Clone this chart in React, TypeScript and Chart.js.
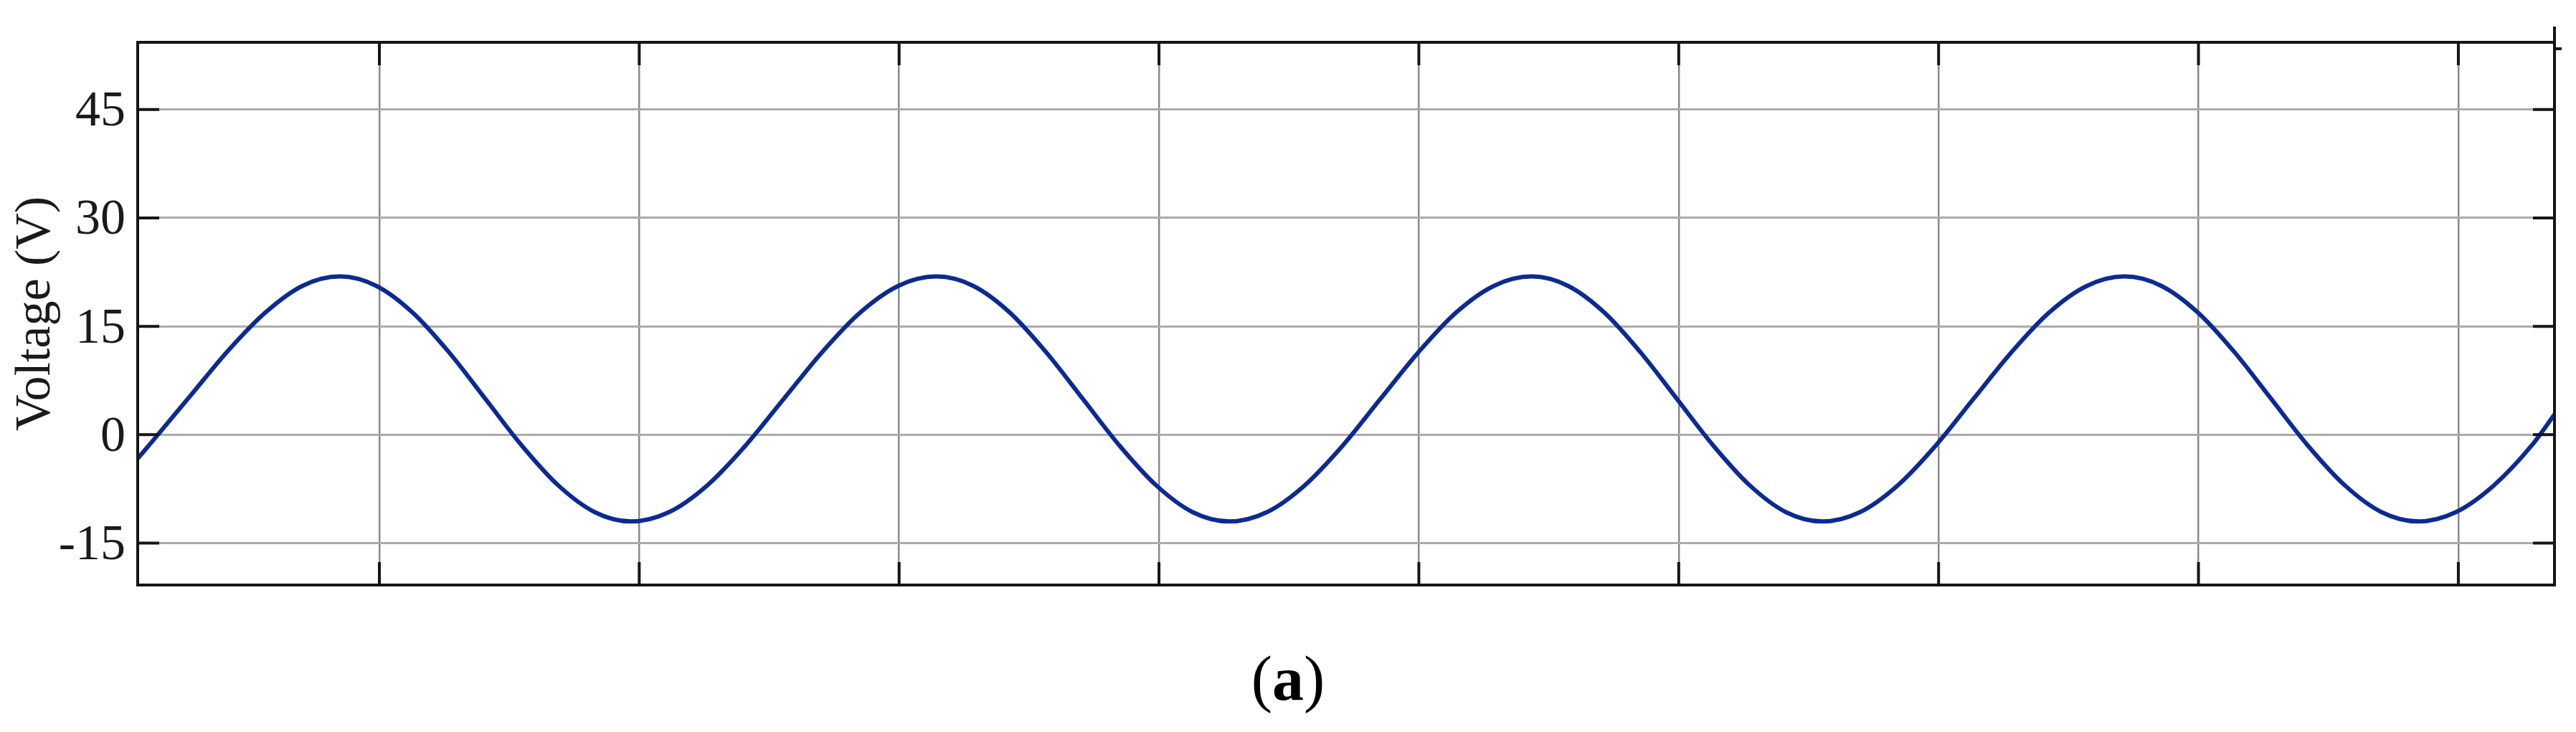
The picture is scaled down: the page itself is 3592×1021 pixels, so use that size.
import React, { useEffect, useRef } from 'react';
import { Chart, registerables } from 'chart.js';

Chart.register(...registerables);

// Time axis (grid units; one vertical grid division = 1 unit)
const timeUnits = [
  0.07, 0.129, 0.273, 0.417, 0.561, 0.704, 0.848,
  0.988, 1.128, 1.268, 1.408, 1.548, 1.688, 1.828, 1.968,
  2.115, 2.262, 2.409, 2.556, 2.703, 2.85, 2.997, 3.144,
  3.285, 3.426, 3.566, 3.707, 3.848, 3.989, 4.129, 4.27,
  4.416, 4.561, 4.707, 4.852, 4.998, 5.143, 5.289, 5.434,
  5.574, 5.714, 5.853, 5.993, 6.133, 6.273, 6.412, 6.552,
  6.698, 6.843, 6.989, 7.134, 7.28, 7.425, 7.571, 7.716,
  7.857, 7.998, 8.139, 8.28, 8.421, 8.563, 8.704, 8.845,
  8.991, 9.137, 9.282, 9.37,
];
// Voltage (V)
const voltage = [
  -3.3, -0.8, 5.4, 11.6, 16.9, 20.6, 21.9,
  20.6, 16.9, 11.4, 4.95, -1.5, -7.0, -10.7, -12.0,
  -10.7, -7.0, -1.5, 4.95, 11.4, 16.9, 20.6, 21.9,
  20.6, 16.9, 11.4, 4.95, -1.5, -7.0, -10.7, -12.0,
  -10.7, -7.0, -1.5, 4.95, 11.4, 16.9, 20.6, 21.9,
  20.6, 16.9, 11.4, 4.95, -1.5, -7.0, -10.7, -12.0,
  -10.7, -7.0, -1.5, 4.95, 11.4, 16.9, 20.6, 21.9,
  20.6, 16.9, 11.4, 4.95, -1.5, -7.0, -10.7, -12.0,
  -10.7, -7.0, -1.5, 2.8,
];
const yTicks = [-15, 0, 15, 30, 45];
const xTicks = [1, 2, 3, 4, 5, 6, 7, 8, 9];
const yLabel = 'Voltage (V)';
const caption = 'a';

const X_MIN = 0.07;
const X_MAX = 9.37;
const Y_MIN = -20.8;
const Y_MAX = 54.3;

const W = 3592;
const H = 1021;

const SERIF = '"Liberation Serif", "Times New Roman", serif';

const framePlugin = {
  id: 'frame',
  afterDatasetsDraw(chart: any) {
    const { ctx, chartArea, scales } = chart;
    const { left, right, top, bottom } = chartArea;
    const x = scales.x;
    const y = scales.y;
    ctx.save();
    ctx.strokeStyle = '#151515';
    ctx.lineWidth = 4;
    ctx.lineCap = 'butt';
    ctx.beginPath();
    yTicks.forEach((v) => {
      const py = y.getPixelForValue(v);
      ctx.moveTo(left, py);
      ctx.lineTo(left + 30, py);
      ctx.moveTo(right, py);
      ctx.lineTo(right - 30, py);
    });
    xTicks.forEach((v) => {
      const px = x.getPixelForValue(v);
      ctx.moveTo(px, top);
      ctx.lineTo(px, top + 32);
      ctx.moveTo(px, bottom);
      ctx.lineTo(px, bottom - 32);
    });
    ctx.stroke();
    ctx.strokeRect(left, top, right - left, bottom - top);
    // small "L" mark at the top-right corner
    ctx.beginPath();
    ctx.moveTo(right, top);
    ctx.lineTo(right, top - 22);
    ctx.moveTo(right, top + 9);
    ctx.lineTo(right + 10, top + 9);
    ctx.stroke();
    ctx.restore();
  },
};

export default function App() {
  const canvasRef = useRef<HTMLCanvasElement | null>(null);

  useEffect(() => {
    document.body.style.margin = '0';
    const canvas = canvasRef.current;
    if (!canvas) return;
    const points = timeUnits.map((t, i) => ({ x: t, y: voltage[i] }));
    const chart = new Chart(canvas, {
      type: 'line',
      data: {
        datasets: [
          {
            data: points,
            borderColor: '#0b2a93',
            borderWidth: 6,
            pointRadius: 0,
            fill: false,
            cubicInterpolationMode: 'monotone',
          },
        ],
      },
      options: {
        animation: false,
        responsive: false,
        devicePixelRatio: 1,
        events: [],
        layout: { padding: { left: 0, top: 47, right: 30, bottom: 205 } },
        plugins: {
          legend: { display: false },
          tooltip: { enabled: false },
          title: { display: false },
        },
        scales: {
          x: {
            type: 'linear',
            min: X_MIN,
            max: X_MAX,
            afterBuildTicks: (s: any) => {
              s.ticks = xTicks.map((v) => ({ value: v }));
            },
            afterFit: (s: any) => {
              s.height = 0;
            },
            ticks: { display: false },
            grid: {
              color: '#8a8a8a',
              lineWidth: 2.5,
              drawTicks: false,
            },
            border: { display: false },
          },
          y: {
            type: 'linear',
            min: Y_MIN,
            max: Y_MAX,
            afterBuildTicks: (s: any) => {
              s.ticks = yTicks.map((v) => ({ value: v }));
            },
            afterFit: (s: any) => {
              s.width = 192;
            },
            ticks: {
              padding: 17,
              labelOffset: 4,
              color: '#1a1a1a',
              font: { family: SERIF, size: 70 },
              callback: (v: any) => String(v),
            },
            grid: {
              color: '#ababab',
              lineWidth: 3,
              drawTicks: false,
            },
            border: { display: false },
            title: {
              display: true,
              text: yLabel,
              color: '#1a1a1a',
              padding: { top: 9, bottom: 0 },
              font: { family: SERIF, size: 70 },
            },
          },
        },
      },
      plugins: [framePlugin],
    });
    return () => {
      chart.destroy();
    };
  }, []);

  return (
    <div style={{ position: 'absolute', left: 0, top: 0, width: W, height: H, background: '#fff', overflow: 'hidden' }}>
      <canvas ref={canvasRef} width={W} height={H} style={{ width: W, height: H, display: 'block' }} />
      <div
        style={{
          position: 'absolute',
          left: 0,
          top: 903,
          width: W,
          textAlign: 'center',
          fontFamily: SERIF,
          fontSize: 88,
          lineHeight: 1,
          color: '#000',
        }}
      >
        (<b>{caption}</b>)
      </div>
    </div>
  );
}
